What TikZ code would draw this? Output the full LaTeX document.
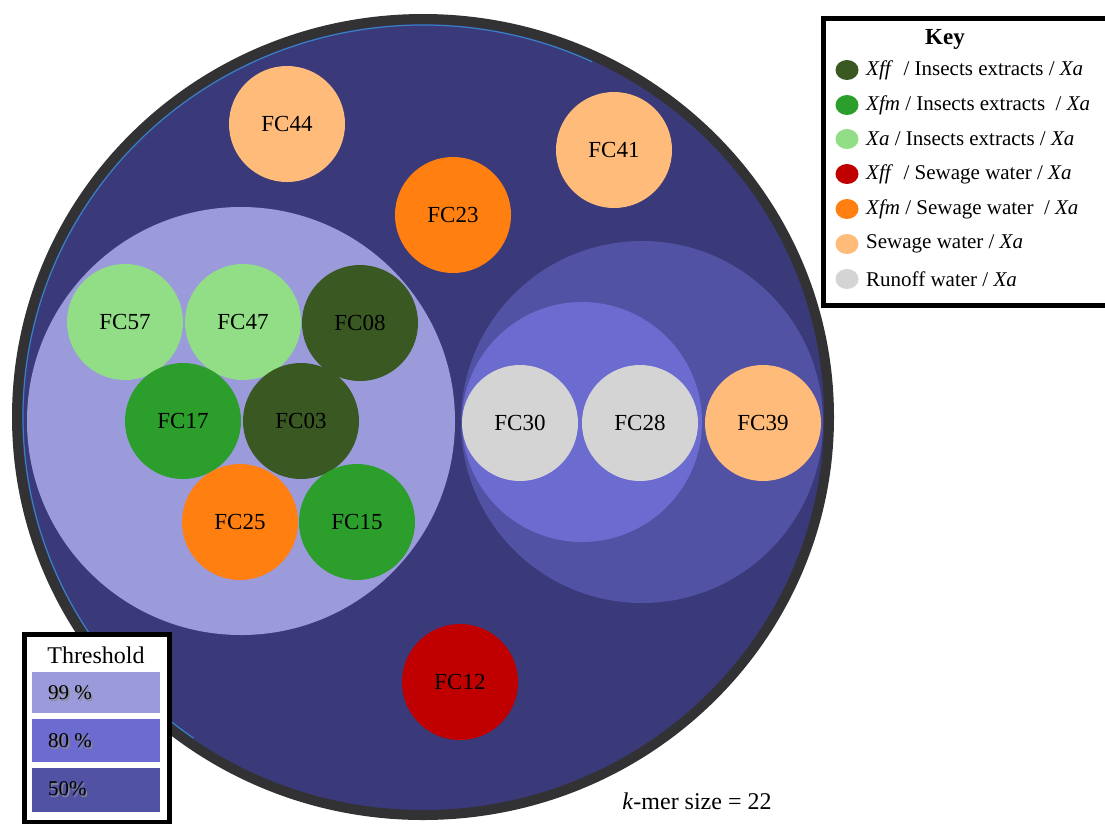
\documentclass[tikz,border=0pt]{standalone}
\usepackage{fontspec}
\setmainfont{Liberation Serif}
\definecolor{navy}{RGB}{58,58,122}
\definecolor{ringgray}{RGB}{50,50,52}
\definecolor{ringblue}{RGB}{55,130,195}
\definecolor{lav99}{RGB}{155,155,220}
\definecolor{lav80}{RGB}{107,107,208}
\definecolor{lav50}{RGB}{82,82,165}
\definecolor{gdark}{RGB}{58,88,34}
\definecolor{gmid}{RGB}{44,158,44}
\definecolor{glight}{RGB}{146,222,134}
\definecolor{cred}{RGB}{192,0,0}
\definecolor{corange}{RGB}{255,128,16}
\definecolor{clorange}{RGB}{255,187,122}
\definecolor{cgray}{RGB}{212,212,212}
\tikzset{
  fc/.style={circle,minimum size=116pt,inner sep=0pt,font=\fontsize{23}{26}\selectfont,text=black},
  keydot/.style={fill=#1,draw=none},
  keytxt/.style={anchor=west,inner sep=0pt,font=\fontsize{21}{24}\selectfont},
  swatch/.style={fill=#1,draw=none},
  swtxt/.style={anchor=west,inner sep=0pt,font=\fontsize{21}{24}\selectfont}
}
\begin{document}
\begin{tikzpicture}[x=1pt,y=-1pt]
\useasboundingbox (0,0) rectangle (1105,823);
% outer circle
\fill[navy] (423,417) ellipse [x radius=406, y radius=398];
\draw[ringblue,line width=1.2pt] (423,417) ++(125:400 and 392) arc [start angle=125, end angle=295, x radius=400, y radius=392];
\draw[ringgray,line width=10pt] (423,417) ellipse [x radius=406, y radius=398];
% threshold circles
\node[circle,fill=lav99,minimum size=428pt,inner sep=0pt] (t99) at (241,421) {};
\node[circle,fill=lav50,minimum size=362pt,inner sep=0pt] (t50) at (642,422) {};
\node[circle,fill=lav80,minimum size=240pt,inner sep=0pt] (t80) at (582,422) {};
% samples
\node[fc,fill=clorange] (fc44) at (287,124) {FC44};
\node[fc,fill=clorange] (fc41) at (614,150) {FC41};
\node[fc,fill=corange] (fc23) at (453,215) {FC23};
\node[fc,fill=glight] (fc57) at (125,322) {FC57};
\node[fc,fill=glight] (fc47) at (243,322) {FC47};
\node[fc,fill=gdark] (fc08) at (360,323) {FC08};
\node[fc,fill=gmid] (fc17) at (183,421) {FC17};
\node[fc,fill=gdark] (fc03) at (301,421) {FC03};
\node[fc,fill=corange] (fc25) at (240,522) {FC25};
\node[fc,fill=gmid] (fc15) at (357,522) {FC15};
\node[fc,fill=cgray] (fc30) at (520,423) {FC30};
\node[fc,fill=cgray] (fc28) at (640,423) {FC28};
\node[fc,fill=clorange] (fc39) at (763,423) {FC39};
\node[fc,fill=cred] (fc12) at (460,682) {FC12};
% key
\draw[black,line width=5pt,fill=white] (823,18) rectangle (1110,305);
\node[font=\fontsize{23}{26}\selectfont\bfseries] (keyt) at (945,39) {Key};
\fill[keydot=gdark] (847,70) ellipse [x radius=11.5, y radius=10];
\node[keytxt] (k1) at (866,70) {\textit{Xff}\ \ / Insects extracts / \textit{Xa}};
\fill[keydot=gmid] (847,105) ellipse [x radius=11.5, y radius=10];
\node[keytxt] (k2) at (866,105) {\textit{Xfm} / Insects extracts\ \ / \textit{Xa}};
\fill[keydot=glight] (847,139) ellipse [x radius=11.5, y radius=10];
\node[keytxt] (k3) at (866,139) {\textit{Xa} / Insects extracts / \textit{Xa}};
\fill[keydot=cred] (847,174) ellipse [x radius=11.5, y radius=10];
\node[keytxt] (k4) at (866,174) {\textit{Xff}\ \ / Sewage water / \textit{Xa}};
\fill[keydot=corange] (847,209) ellipse [x radius=11.5, y radius=10];
\node[keytxt] (k5) at (866,209) {\textit{Xfm} / Sewage water\ \ / \textit{Xa}};
\fill[keydot=clorange] (847,244) ellipse [x radius=11.5, y radius=10];
\node[keytxt] (k6) at (866,244) {Sewage water / \textit{Xa}};
\fill[keydot=cgray] (847,279) ellipse [x radius=11.5, y radius=10];
\node[keytxt] (k7) at (866,279) {Runoff water / \textit{Xa}};
% threshold legend
\draw[black,line width=5pt,fill=white] (24.5,634.5) rectangle (169.5,822);
\node[font=\fontsize{24}{27}\selectfont] (tht) at (96,655) {Threshold};
\fill[swatch=lav99] (32,672) rectangle (160,713);
\fill[swatch=lav80] (32,719) rectangle (160,762);
\fill[swatch=lav50] (32,768) rectangle (160,812);
\node[swtxt,text=black!45] at (49.5,694.5) {99 \%};
\node[swtxt] (s99) at (48,693) {99 \%};
\node[swtxt,text=black!45] at (49.5,742.5) {80 \%};
\node[swtxt] (s80) at (48,741) {80 \%};
\node[swtxt,text=black!45] at (49.5,790.5) {50\%};
\node[swtxt] (s50) at (48,789) {50\%};
% k-mer
\node[font=\fontsize{24}{27}\selectfont] (kmer) at (697,801) {\textit{k}-mer size = 22};
\end{tikzpicture}
\end{document}
